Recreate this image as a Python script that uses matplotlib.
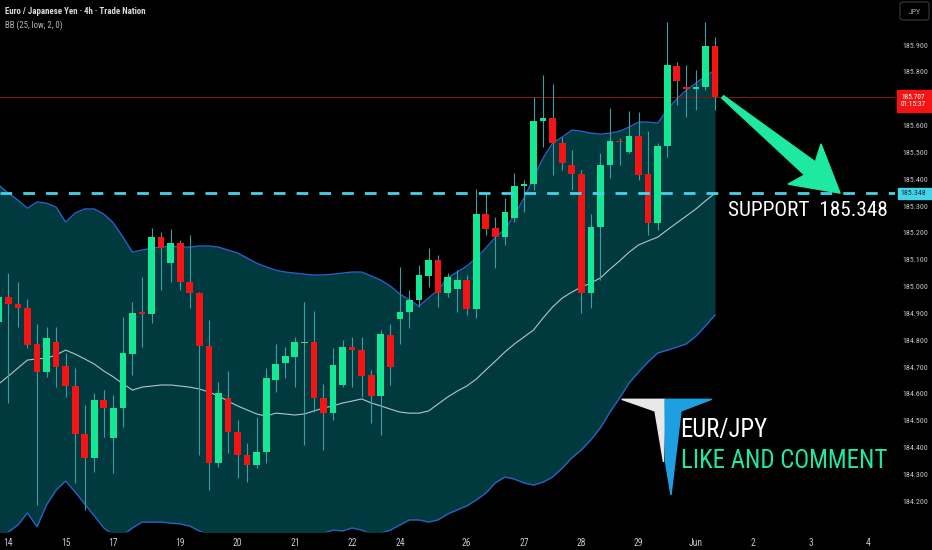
import os
import matplotlib
matplotlib.use('Agg')
import matplotlib.pyplot as plt
import matplotlib.transforms as mtransforms
from matplotlib import font_manager
from matplotlib.font_manager import FontProperties
from matplotlib.patches import Polygon, Rectangle, FancyBboxPatch
import numpy as np

# EUR/JPY 4h candles
opens = [184.867, 184.961, 184.935, 184.920, 184.786, 184.681, 184.793, 184.704, 184.629, 184.450,
         184.361, 184.577, 184.435, 184.547, 184.748, 184.905, 184.897, 185.184, 185.088, 185.162,
         185.017, 184.976, 184.778, 184.342, 184.584, 184.458, 184.372, 184.335, 184.383, 184.651,
         184.715, 184.737, 184.789, 184.793, 184.584, 184.528, 184.633, 184.774, 184.763, 184.670,
         184.592, 184.819, 184.879, 184.905, 184.950, 185.039, 185.099, 184.976, 184.991, 185.024,
         184.916, 185.270, 185.218, 185.184, 185.255, 185.374, 185.382, 185.617, 185.628, 185.535,
         185.453, 185.419, 184.976, 185.222, 185.453, 185.542, 185.501, 185.561, 185.419, 185.237,
         185.524, 185.822, 185.743, 185.736, 185.743, 185.896]
highs = [184.987, 185.050, 185.017, 184.953, 184.860, 184.849, 184.849, 184.752, 184.696, 184.558,
         184.603, 184.614, 184.596, 184.886, 184.942, 185.035, 185.218, 185.203, 185.214, 185.173,
         185.192, 184.980, 184.875, 184.644, 184.685, 184.502, 184.417, 184.514, 184.696, 184.786,
         184.774, 184.812, 184.942, 184.909, 184.636, 184.771, 184.800, 184.812, 184.812, 184.689,
         184.838, 184.860, 185.073, 184.987, 185.080, 185.143, 185.117, 185.050, 185.061, 185.043,
         185.363, 185.348, 185.259, 185.330, 185.423, 185.397, 185.706, 185.788, 185.755, 185.557,
         185.509, 185.434, 185.270, 185.497, 185.665, 185.553, 185.654, 185.650, 185.579, 185.535,
         185.986, 185.837, 185.825, 185.807, 185.986, 185.930]
lows = [184.838, 184.566, 184.849, 184.771, 184.185, 184.663, 184.625, 184.588, 184.268, 184.167,
        184.308, 184.439, 184.305, 184.476, 184.670, 184.774, 184.864, 184.987, 185.017, 184.987,
        184.920, 184.372, 184.241, 184.327, 184.379, 184.286, 184.271, 184.323, 184.342, 184.607,
        184.659, 184.625, 184.409, 184.532, 184.391, 184.502, 184.625, 184.625, 184.588, 184.491,
        184.446, 184.633, 184.786, 184.845, 184.924, 184.998, 184.924, 184.961, 184.905, 184.894,
        184.882, 185.192, 185.069, 185.155, 185.240, 185.278, 185.360, 185.520, 185.416, 185.434,
        185.360, 184.901, 184.920, 185.024, 185.404, 185.453, 185.497, 185.397, 185.192, 185.210,
        185.483, 185.676, 185.632, 185.658, 185.732, 185.658]
closes = [184.961, 184.935, 184.920, 184.782, 184.681, 184.808, 184.700, 184.629, 184.450, 184.361,
          184.577, 184.547, 184.547, 184.752, 184.901, 184.897, 185.184, 185.143, 185.162, 185.017,
          184.976, 184.778, 184.342, 184.603, 184.458, 184.372, 184.335, 184.383, 184.659, 184.711,
          184.741, 184.793, 184.793, 184.584, 184.528, 184.707, 184.774, 184.763, 184.666, 184.592,
          184.823, 184.700, 184.905, 184.950, 185.043, 185.099, 184.976, 185.035, 185.024, 184.916,
          185.270, 185.214, 185.184, 185.278, 185.374, 185.382, 185.617, 185.628, 185.535, 185.460,
          185.419, 184.976, 185.222, 185.453, 185.542, 185.538, 185.561, 185.416, 185.237, 185.524,
          185.825, 185.766, 185.736, 185.743, 185.896, 185.707]

# BB (25, low, 2, 0) as drawn
bb_upper = [185.378, 185.348, 185.322, 185.292, 185.315, 185.311, 185.296, 185.240, 185.274, 185.289,
            185.289, 185.270, 185.237, 185.184, 185.128, 185.136, 185.143, 185.147, 185.151, 185.147,
            185.147, 185.151, 185.151, 185.147, 185.136, 185.125, 185.106, 185.087, 185.073, 185.061,
            185.054, 185.050, 185.046, 185.043, 185.043, 185.046, 185.050, 185.054, 185.054, 185.039,
            185.024, 185.002, 184.972, 184.950, 184.927, 184.957, 184.987, 185.032, 185.054, 185.076,
            185.106, 185.143, 185.184, 185.214, 185.266, 185.330, 185.404, 185.479, 185.535, 185.557,
            185.583, 185.579, 185.572, 185.568, 185.572, 185.579, 185.594, 185.613, 185.613, 185.609,
            185.658, 185.699, 185.732, 185.758, 185.784, 185.807]
bb_mid = [184.637, 184.666, 184.696, 184.726, 184.730, 184.733, 184.745, 184.763, 184.748, 184.730,
          184.711, 184.685, 184.663, 184.637, 184.614, 184.625, 184.629, 184.633, 184.633, 184.629,
          184.625, 184.618, 184.607, 184.592, 184.573, 184.555, 184.540, 184.525, 184.517, 184.528,
          184.525, 184.521, 184.525, 184.536, 184.547, 184.555, 184.566, 184.573, 184.581, 184.566,
          184.555, 184.543, 184.532, 184.528, 184.528, 184.536, 184.562, 184.588, 184.610, 184.629,
          184.655, 184.689, 184.722, 184.756, 184.786, 184.812, 184.838, 184.883, 184.924, 184.957,
          184.979, 184.998, 185.013, 185.032, 185.065, 185.095, 185.128, 185.155, 185.170, 185.184,
          185.211, 185.237, 185.263, 185.289, 185.319, 185.348]
bb_lower = [184.055, 184.085, 184.111, 184.156, 184.104, 184.186, 184.241, 184.275, 184.234, 184.189,
            184.145, 184.100, 184.074, 184.074, 184.100, 184.122, 184.122, 184.122, 184.118, 184.115,
            184.107, 184.089, 184.070, 184.055, 184.048, 184.044, 184.040, 184.036, 184.036, 184.040,
            184.044, 184.048, 184.055, 184.066, 184.081, 184.092, 184.089, 184.100, 184.092, 184.077,
            184.081, 184.092, 184.111, 184.130, 184.130, 184.122, 184.130, 184.152, 184.167, 184.182,
            184.204, 184.230, 184.268, 184.290, 184.282, 184.268, 184.260, 184.271, 184.290, 184.323,
            184.361, 184.391, 184.428, 184.473, 184.532, 184.584, 184.640, 184.681, 184.719, 184.752,
            184.763, 184.774, 184.786, 184.815, 184.853, 184.894]

date_labels = ['14', '15', '17', '19', '20', '21', '22', '24', '26', '27', '28', '29', 'Jun', '2', '3', '4']
date_ticks = [1, 7, 12, 19, 25, 31, 37, 42, 49, 55, 61, 67, 73, 79, 85, 91]
price_ticks = [184.2, 184.3, 184.4, 184.5, 184.6, 184.7, 184.8, 184.9,
               185.0, 185.1, 185.2, 185.3, 185.4, 185.5, 185.6, 185.7, 185.8, 185.9]
last_price = 185.707
countdown = '01:15:37'
support = 185.348

GREEN = '#14e894'
RED = '#f51414'
WICK = '#3a9ea4'
FILL = '#003a3e'
BAND = '#2c5fc4'
MID = '#b4c6c8'
CYAN = '#45d3ea'
TICK = '#c3c6ce'


def pick_narrow():
    names = {f.name for f in font_manager.fontManager.ttflist}
    for fam in ['Liberation Sans Narrow', 'Roboto Condensed', 'Open Sans Condensed',
                'Noto Sans Condensed', 'DejaVu Sans Condensed']:
        if fam in names:
            return FontProperties(family=fam)
    for fam in ['Roboto', 'Noto Sans', 'Open Sans', 'DejaVu Sans']:
        try:
            path = font_manager.findfont(FontProperties(family=fam, stretch='condensed'),
                                         fallback_to_default=False)
        except Exception:
            continue
        if 'ondensed' in os.path.basename(path) or 'arrow' in os.path.basename(path):
            return FontProperties(fname=path)
    return FontProperties(family='Liberation Sans')


NARROW = pick_narrow()

W, H = 932, 550
fig = plt.figure(figsize=(W / 100, H / 100), dpi=100, facecolor='black')
ax = fig.add_axes([0, 18 / H, 895 / W, 532 / H], facecolor='black')
renderer = fig.canvas.get_renderer()


def fitted(text, target_px, max_pt):
    # font size that makes `text` about target_px wide, capped at max_pt
    t = fig.text(0, 0, text, fontproperties=NARROW, fontsize=10)
    w = t.get_window_extent(renderer).width
    t.remove()
    return min(max_pt, 10 * target_px / w)


def fp(size):
    f = NARROW.copy()
    f.set_size(size)
    return f


idx = np.arange(len(closes))
o = np.array(opens); c = np.array(closes)
hi = np.array(highs); lo = np.array(lows)

# bollinger bands
ax.fill_between(idx, bb_lower, bb_upper, color=FILL, lw=0, zorder=1)
ax.plot(idx, bb_upper, color=BAND, lw=1.0, zorder=2)
ax.plot(idx, bb_lower, color=BAND, lw=1.0, zorder=2)
ax.plot(idx, bb_mid, color=MID, lw=0.8, zorder=2)

# candles
up = c >= o
cols = np.where(up, GREEN, RED)
ax.vlines(idx, lo, hi, color=WICK, lw=0.8, zorder=3)
body_lo = np.minimum(o, c)
body_h = np.maximum(np.abs(c - o), 0.003)
ax.bar(idx, body_h, bottom=body_lo, width=0.7, color=cols, lw=0, zorder=4)

# last price line and support line
ax.axhline(last_price, color='#8a1414', lw=0.7, zorder=2.5)
ax.axhline(support, color=CYAN, lw=2.0, dashes=(4.2, 4.0), zorder=5)

ax.set_xlim(0.126, 93.85)
ax.set_ylim(184.085, 186.068)

# the tick hidden under the last-price box gets no label
price_size = fitted('185.900', 25, 6.5)
ax.yaxis.tick_right()
ax.set_yticks(price_ticks)
ax.set_yticklabels(['' if abs(p - last_price) < 0.04 else f'{p:.3f}' for p in price_ticks],
                   fontproperties=fp(price_size), color=TICK)
ax.tick_params(axis='y', length=0, pad=5)
ax.set_xticks(date_ticks)
ax.set_xticklabels(date_labels, fontproperties=fp(fitted('Jun', 14, 7)), color=TICK)
ax.tick_params(axis='x', length=0, pad=4)
for s in ax.spines.values():
    s.set_visible(False)

# price scale labels
blend = mtransforms.blended_transform_factory(ax.transAxes, ax.transData)
ax.add_patch(Rectangle((897 / 895, last_price - 15 / 268.3), 35 / 895, 22 / 268.3,
                       transform=blend, color=RED, clip_on=False, zorder=6))
ax.text(913.5 / 895, last_price - 4 / 268.3, f'{last_price:.3f}\n{countdown}', transform=blend,
        ha='center', va='center', multialignment='center', linespacing=1.05,
        fontproperties=fp(price_size * 0.95), color='white', clip_on=False, zorder=7)
ax.add_patch(Rectangle((898 / 895, support - 5.5 / 268.3), 34 / 895, 11 / 268.3,
                       transform=blend, color=CYAN, clip_on=False, zorder=6))
ax.text(913.5 / 895, support, f'{support:.3f}', transform=blend, ha='center', va='center',
        fontproperties=fp(price_size), color='#10323a', clip_on=False, zorder=7)

# arrow from last candle to the support line
tail = ax.transData.transform((75.8, last_price))
tip = ax.transData.transform((88.1, support))
vec = tip - tail
L = np.hypot(*vec)
u = vec / L
n = np.array([-u[1], u[0]])
shape = [(0, 1.5), (L - 39, 8.5), (L - 46, 26), (L, 0), (L - 46, -26), (L - 39, -8.5), (0, -1.5)]
pts = [tail + a * u + b * n for a, b in shape]
fig.patches.append(Polygon(pts, closed=True, transform=None, color='#1de9a0', zorder=8))

sup_text = f'SUPPORT  {support:.3f}'
fig.text(728 / W, 1 - 211 / H, sup_text, fontproperties=fp(fitted(sup_text, 160, 16)),
         color='white', va='center', ha='left')

# header
title = 'Euro / Japanese Yen · 4h · Trade Nation'
fig.text(5 / W, 1 - 12 / H, title, fontproperties=fp(fitted(title, 138, 7.5)), color='#d8dae0',
         va='center', weight='bold')
bb_text = 'BB (25, low, 2, 0)'
fig.text(5 / W, 1 - 25 / H, bb_text, fontproperties=fp(fitted(bb_text, 58, 7.5)), color='#b2b5be',
         va='center')
fig.patches.append(FancyBboxPatch((900 / W, 1 - 20 / H), 29 / W, 18 / H,
                                  boxstyle='round,pad=0,rounding_size=0.004', transform=fig.transFigure,
                                  fc='black', ec='#363a45', lw=0.8))
fig.text(914.5 / W, 1 - 11.5 / H, 'JPY', fontproperties=fp(fitted('JPY', 12, 6.5)), color='#b2b5be',
         ha='center', va='center')


# logo
def px(x, y):
    return (x / W, 1 - y / H)


fig.patches.append(Polygon([px(621.7, 399.3), px(665, 399.3), px(663.5, 462), px(655, 411)],
                           transform=fig.transFigure, color='#e8e8e8'))
fig.patches.append(Polygon([px(665, 399.3), px(711.7, 399.3), px(681, 411), px(671, 495), px(665.5, 462)],
                           transform=fig.transFigure, color='#1e9fe2'))
fig.text(680 / W, 1 - 430 / H, 'EUR/JPY', fontproperties=fp(fitted('EUR/JPY', 87, 18)),
         color='white', va='center')
fig.text(681 / W, 1 - 461 / H, 'LIKE AND COMMENT', fontproperties=fp(fitted('LIKE AND COMMENT', 207, 18)),
         color='#1de9a0', va='center')

fig.savefig('out.png', dpi=100, facecolor='black')
